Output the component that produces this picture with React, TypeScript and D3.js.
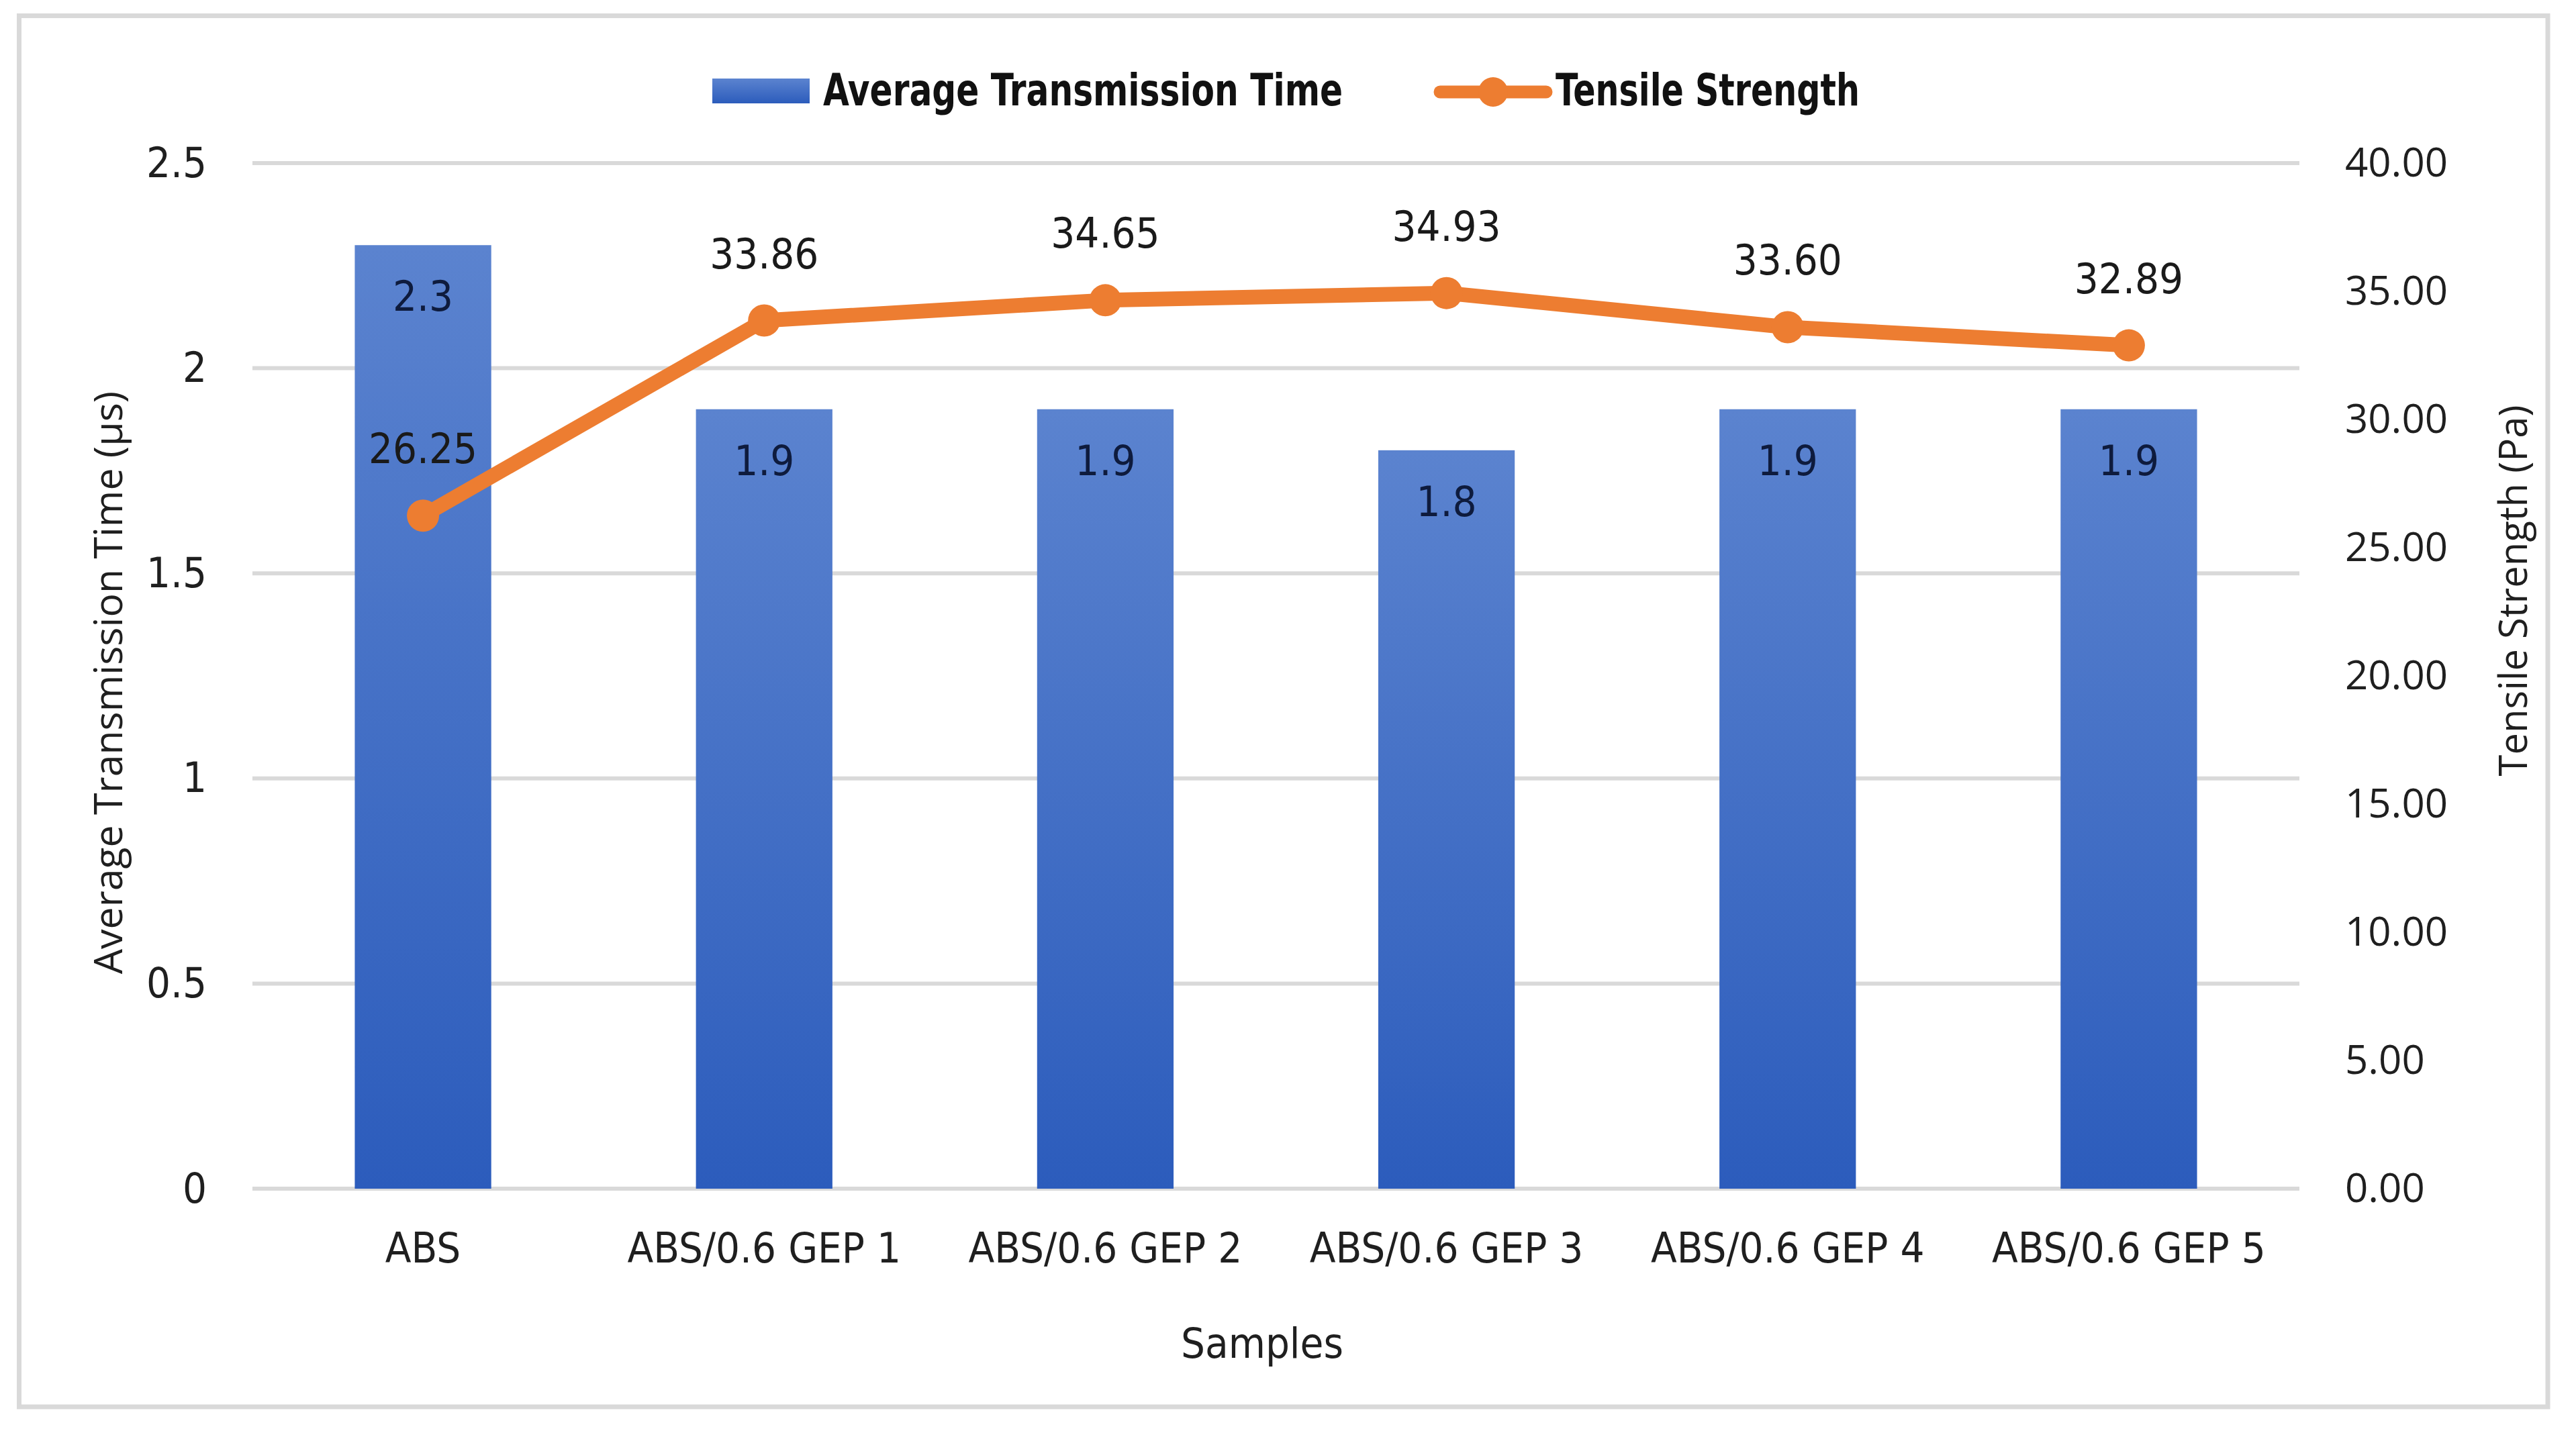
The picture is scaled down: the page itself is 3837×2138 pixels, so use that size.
import React, { useEffect, useRef } from "react";
import * as d3 from "d3";

const samples = [
  "ABS",
  "ABS/0.6 GEP 1",
  "ABS/0.6 GEP 2",
  "ABS/0.6 GEP 3",
  "ABS/0.6 GEP 4",
  "ABS/0.6 GEP 5",
];
const transmissionTime = [2.3, 1.9, 1.9, 1.8, 1.9, 1.9];
const tensileStrength = [26.25, 33.86, 34.65, 34.93, 33.6, 32.89];
const leftTicks = [0, 0.5, 1, 1.5, 2, 2.5];
const rightTicks = [0, 5, 10, 15, 20, 25, 30, 35, 40];

const App: React.FC = () => {
  const svgRef = useRef<SVGSVGElement | null>(null);

  useEffect(() => {
    if (!svgRef.current) return;

    // Chart dimensions
    const width = 3837;
    const height = 2138;
    const marginTop = 243;
    const marginRight = 412;
    const marginBottom = 367;
    const marginLeft = 376;

    const narrow =
      "'Liberation Sans Narrow', 'DejaVu Sans Condensed', 'Roboto Condensed', sans-serif";
    const wide = "'Open Sans', sans-serif";
    const orange = "#ED7D31";
    const fontSize = 63;

    // Scales
    const x = d3
      .scaleBand<string>()
      .domain(samples)
      .range([marginLeft, width - marginRight]);

    const yLeft = d3
      .scaleLinear()
      .domain([0, 2.5])
      .range([height - marginBottom, marginTop]);

    const yRight = d3
      .scaleLinear()
      .domain([0, 40])
      .range([height - marginBottom, marginTop]);

    const barWidth = x.bandwidth() * 0.4;
    const cx = (s: string) => x(s)! + x.bandwidth() / 2;

    const svg = d3
      .select(svgRef.current)
      .attr("viewBox", [0, 0, width, height])
      .attr("width", width)
      .attr("height", height);

    svg.selectAll("*").remove();

    // Gradient for the bars
    const defs = svg.append("defs");
    const grad = defs
      .append("linearGradient")
      .attr("id", "barGrad")
      .attr("x1", 0)
      .attr("y1", 0)
      .attr("x2", 0)
      .attr("y2", 1);
    grad.append("stop").attr("offset", "0%").attr("stop-color", "#5B83CF");
    grad.append("stop").attr("offset", "100%").attr("stop-color", "#2C5CBC");

    // Background and frame
    svg.append("rect").attr("width", width).attr("height", height).attr("fill", "#fff");
    svg
      .append("rect")
      .attr("x", 28.5)
      .attr("y", 23.5)
      .attr("width", 3766.5)
      .attr("height", 2072.5)
      .attr("fill", "none")
      .attr("stroke", "#d9d9d9")
      .attr("stroke-width", 7);

    // Grid lines
    svg
      .append("g")
      .selectAll("line")
      .data(leftTicks)
      .join("line")
      .attr("x1", marginLeft)
      .attr("x2", width - marginRight)
      .attr("y1", (d) => yLeft(d))
      .attr("y2", (d) => yLeft(d))
      .attr("stroke", "#d9d9d9")
      .attr("stroke-width", 6);

    // Axes
    svg
      .append("g")
      .attr("transform", `translate(${marginLeft},0)`)
      .call(
        d3
          .axisLeft(yLeft)
          .tickValues(leftTicks)
          .tickFormat((d) => String(d))
          .tickSize(0)
          .tickPadding(68)
      )
      .call((g) => g.select(".domain").remove())
      .call((g) =>
        g
          .selectAll("text")
          .attr("font-family", narrow)
          .attr("font-size", fontSize)
          .attr("fill", "#1f1f1f")
      );

    svg
      .append("g")
      .attr("transform", `translate(${width - marginRight},0)`)
      .call(
        d3
          .axisRight(yRight)
          .tickValues(rightTicks)
          .tickFormat(d3.format(".2f"))
          .tickSize(0)
          .tickPadding(68)
      )
      .call((g) => g.select(".domain").remove())
      .call((g) =>
        g
          .selectAll("text")
          .attr("font-family", wide)
          .attr("font-size", 60)
          .attr("fill", "#1f1f1f")
      );

    svg
      .append("g")
      .attr("transform", `translate(0,${height - marginBottom})`)
      .call(d3.axisBottom(x).tickSize(0).tickPadding(65))
      .call((g) => g.select(".domain").remove())
      .call((g) =>
        g
          .selectAll("text")
          .attr("font-family", narrow)
          .attr("font-size", fontSize)
          .attr("fill", "#1f1f1f")
      );

    // Bars
    svg
      .append("g")
      .selectAll("rect")
      .data(samples)
      .join("rect")
      .attr("x", (d) => cx(d) - barWidth / 2)
      .attr("width", barWidth)
      .attr("y", (_, i) => yLeft(transmissionTime[i]))
      .attr("height", (_, i) => yLeft(0) - yLeft(transmissionTime[i]))
      .attr("fill", "url(#barGrad)");

    svg
      .append("g")
      .selectAll("text")
      .data(samples)
      .join("text")
      .attr("x", (d) => cx(d))
      .attr("y", (_, i) => yLeft(transmissionTime[i]) + 98)
      .attr("text-anchor", "middle")
      .attr("font-family", narrow)
      .attr("font-size", fontSize)
      .attr("fill", "#0e1b3d")
      .text((_, i) => String(transmissionTime[i]));

    // Tensile strength line
    const lineGenerator = d3
      .line<number>()
      .x((_, i) => cx(samples[i]))
      .y((d) => yRight(d));

    svg
      .append("path")
      .datum(tensileStrength)
      .attr("d", lineGenerator)
      .attr("fill", "none")
      .attr("stroke", orange)
      .attr("stroke-width", 22)
      .attr("stroke-linejoin", "round")
      .attr("stroke-linecap", "round");

    svg
      .append("g")
      .selectAll("circle")
      .data(tensileStrength)
      .join("circle")
      .attr("cx", (_, i) => cx(samples[i]))
      .attr("cy", (d) => yRight(d))
      .attr("r", 24)
      .attr("fill", orange);

    svg
      .append("g")
      .selectAll("text")
      .data(tensileStrength)
      .join("text")
      .attr("x", (_, i) => cx(samples[i]))
      .attr("y", (d) => yRight(d) - 78)
      .attr("text-anchor", "middle")
      .attr("font-family", narrow)
      .attr("font-size", fontSize)
      .attr("fill", "#1a1a1a")
      .text((d) => d3.format(".2f")(d));

    // Axis titles
    svg
      .append("text")
      .attr("transform", "translate(182,1017) rotate(-90)")
      .attr("text-anchor", "middle")
      .attr("font-family", wide)
      .attr("font-size", 59)
      .attr("fill", "#1f1f1f")
      .text("Average Transmission Time (µs)");

    svg
      .append("text")
      .attr("transform", "translate(3764,880) rotate(-90)")
      .attr("text-anchor", "middle")
      .attr("font-family", wide)
      .attr("font-size", 58)
      .attr("fill", "#1f1f1f")
      .text("Tensile Strength (Pa)");

    svg
      .append("text")
      .attr("x", 1880)
      .attr("y", 2023)
      .attr("text-anchor", "middle")
      .attr("font-family", narrow)
      .attr("font-size", fontSize)
      .attr("fill", "#1f1f1f")
      .text("Samples");

    // Legend
    const legend = svg
      .append("g")
      .attr("font-family", narrow)
      .attr("font-size", 66)
      .attr("font-weight", "bold")
      .attr("fill", "#111");
    legend
      .append("rect")
      .attr("x", 1061)
      .attr("y", 117)
      .attr("width", 145)
      .attr("height", 37)
      .attr("fill", "url(#barGrad)");
    legend
      .append("text")
      .attr("x", 1226)
      .attr("y", 157)
      .attr("textLength", 774)
      .attr("lengthAdjust", "spacingAndGlyphs")
      .text("Average Transmission Time");
    legend
      .append("line")
      .attr("x1", 2145)
      .attr("x2", 2303)
      .attr("y1", 137)
      .attr("y2", 137)
      .attr("stroke", orange)
      .attr("stroke-width", 19)
      .attr("stroke-linecap", "round");
    legend.append("circle").attr("cx", 2224).attr("cy", 137).attr("r", 22).attr("fill", orange);
    legend
      .append("text")
      .attr("x", 2317)
      .attr("y", 157)
      .attr("textLength", 453)
      .attr("lengthAdjust", "spacingAndGlyphs")
      .text("Tensile Strength");

    return () => {
      svg.selectAll("*").remove();
    };
  }, []);

  return (
    <svg
      ref={svgRef}
      style={{ position: "absolute", left: 0, top: 0, display: "block" }}
    ></svg>
  );
};

export default App;
